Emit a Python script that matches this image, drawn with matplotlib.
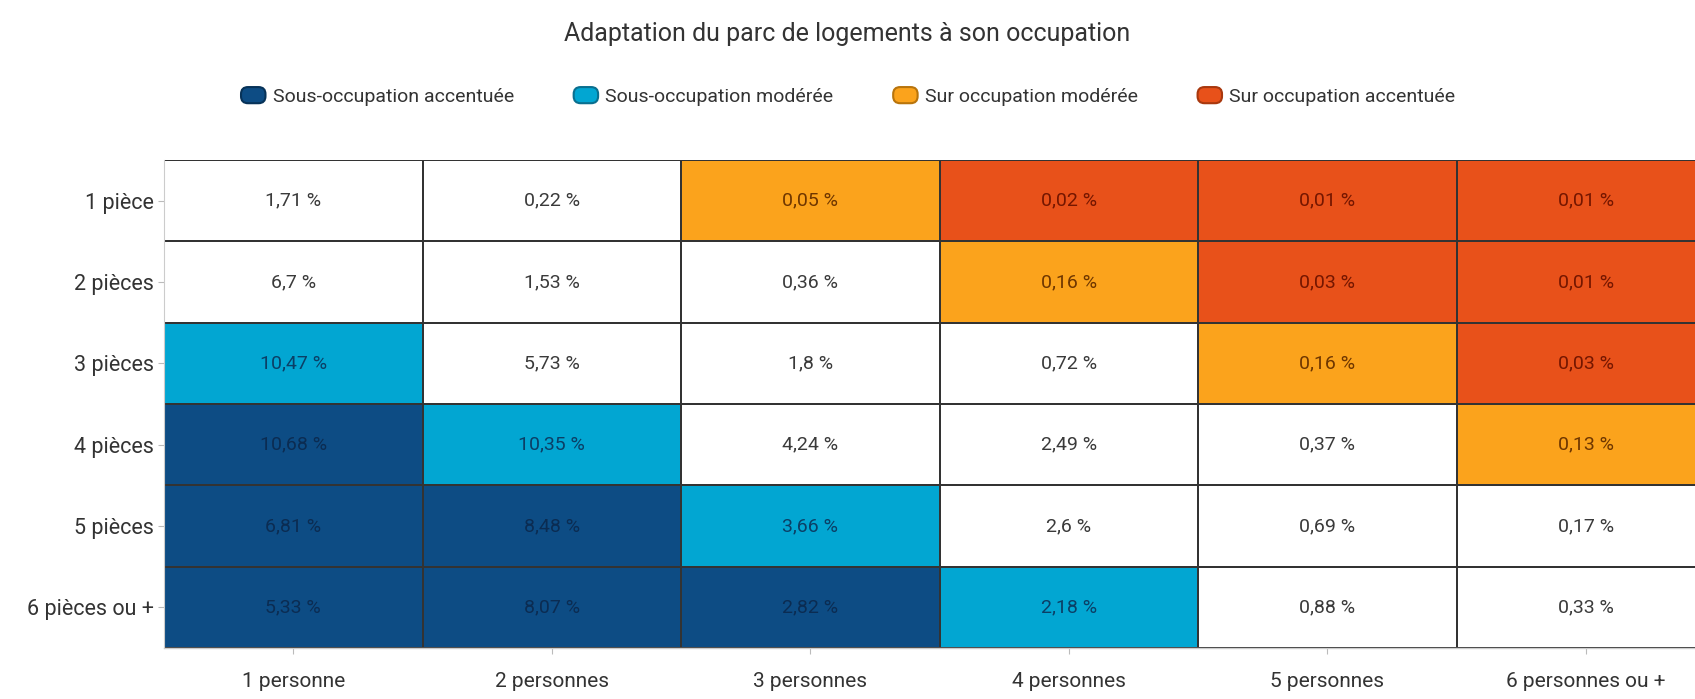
import matplotlib
matplotlib.use("Agg")
import matplotlib.pyplot as plt
from matplotlib.colors import ListedColormap, BoundaryNorm
from matplotlib.patches import FancyBboxPatch, Patch
from matplotlib.legend_handler import HandlerPatch
import numpy as np

plt.rcParams['font.family'] = ['Roboto', 'DejaVu Sans']

rooms = ["1 pièce", "2 pièces", "3 pièces", "4 pièces", "5 pièces", "6 pièces ou +"]
persons = ["1 personne", "2 personnes", "3 personnes", "4 personnes", "5 personnes", "6 personnes ou +"]

values = [
    [1.71, 0.22, 0.05, 0.02, 0.01, 0.01],
    [6.7, 1.53, 0.36, 0.16, 0.03, 0.01],
    [10.47, 5.73, 1.8, 0.72, 0.16, 0.03],
    [10.68, 10.35, 4.24, 2.49, 0.37, 0.13],
    [6.81, 8.48, 3.66, 2.6, 0.69, 0.17],
    [5.33, 8.07, 2.82, 2.18, 0.88, 0.33],
]
# 0 = adapted, 1 = sous-occ. accentuée, 2 = sous-occ. modérée, 3 = sur occ. modérée, 4 = sur occ. accentuée
category = [
    [0, 0, 3, 4, 4, 4],
    [0, 0, 0, 3, 4, 4],
    [2, 0, 0, 0, 3, 4],
    [1, 2, 0, 0, 0, 3],
    [1, 1, 2, 0, 0, 0],
    [1, 1, 1, 2, 0, 0],
]
legend_labels = ["Sous-occupation accentuée", "Sous-occupation modérée",
                 "Sur occupation modérée", "Sur occupation accentuée"]

cell_colors = ["#ffffff", "#0d4c84", "#02a6d2", "#fba31c", "#e8511a"]
text_colors = ["#3a3a3a", "#0b2c52", "#0b3f66", "#6e3600", "#741600"]
legend_edge = ["#073258", "#0a6f8f", "#b8740c", "#a8380e"]

fig = plt.figure(figsize=(16.95, 6.99), dpi=100)
ax = fig.add_axes([0.0968, 0.073, 0.915, 0.698])

cat = np.array(category)
cmap = ListedColormap(cell_colors)
norm = BoundaryNorm(np.arange(-0.5, 5.5, 1), cmap.N)
ax.pcolormesh(np.arange(len(persons) + 1), np.arange(len(rooms) + 1), cat,
              cmap=cmap, norm=norm, edgecolors="#333333", linewidth=1.3)
ax.set_xlim(0, len(persons))
ax.set_ylim(len(rooms), 0)

def fmt(v):
    s = ("%.2f" % v).rstrip("0").rstrip(".")
    return s.replace(".", ",") + " %"

for i in range(len(rooms)):
    for j in range(len(persons)):
        ax.text(j + 0.5, i + 0.5, fmt(values[i][j]), ha="center", va="center",
                fontsize=14, color=text_colors[category[i][j]])

ax.set_xticks(np.arange(len(persons)) + 0.5)
ax.set_xticklabels(persons, fontsize=15, color="#333333")
ax.set_yticks(np.arange(len(rooms)) + 0.5)
ax.set_yticklabels(rooms, fontsize=15.5, color="#333333")
ax.tick_params(axis="both", length=4, color="#bbbbbb", width=0.8)
ax.tick_params(axis="x", pad=13)
ax.tick_params(axis="y", pad=3)
for side in ["top", "right"]:
    ax.spines[side].set_visible(False)
ax.spines["left"].set_color("#cccccc")
ax.spines["bottom"].set_color("#cccccc")
ax.spines["left"].set_linewidth(0.8)
ax.spines["bottom"].set_linewidth(1.0)

fig.text(0.5, 0.952, "Adaptation du parc de logements à son occupation",
         ha="center", va="center", fontsize=18, color="#333333")

class RoundHandler(HandlerPatch):
    def create_artists(self, legend, orig_handle, xdescent, ydescent, width, height, fontsize, trans):
        p = FancyBboxPatch((-xdescent + 1, -ydescent), width - 2, height,
                           boxstyle="round,pad=0,rounding_size=5",
                           facecolor=orig_handle.get_facecolor(),
                           edgecolor=orig_handle.get_edgecolor(), linewidth=1.5,
                           transform=trans)
        return [p]

handles = [Patch(facecolor=cell_colors[k + 1], edgecolor=legend_edge[k]) for k in range(4)]
fig.legend(handles, legend_labels, loc="center", bbox_to_anchor=(0.5, 0.862), ncol=4,
           frameon=False, fontsize=14, handlelength=1.4, handleheight=0.9,
           handletextpad=0.3, columnspacing=3.0,
           handler_map={Patch: RoundHandler()}, labelcolor="#333333")

fig.savefig("out.png", dpi=100)
